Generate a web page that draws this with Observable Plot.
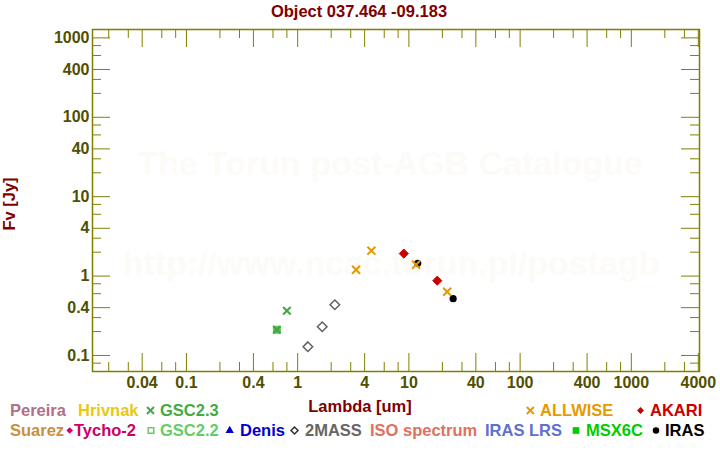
<!DOCTYPE html>
<html><head><meta charset="utf-8">
<script src="https://cdn.jsdelivr.net/npm/d3@7"></script>
<script src="https://cdn.jsdelivr.net/npm/@observablehq/plot@0.6"></script>
<style>body{margin:0;background:#fff}#chart{width:720px;height:450px}</style>
</head><body><div id="chart"></div>
<script>
// ---- tick values ----
const xMajorTicks = [0.04, 0.1, 0.4, 1, 4, 10, 40, 100, 400, 1000, 4000];
const xMinorTicks = [0.02, 0.03, 0.06, 0.08, 0.2, 0.3, 0.6, 0.8, 2, 3, 6, 8, 20, 30, 60, 80, 200, 300, 600, 800, 2000, 3000];
const yMajorTicks = [0.1, 0.4, 1, 4, 10, 40, 100, 400, 1000];
const yMinorTicks = [0.08, 0.2, 0.3, 0.6, 0.8, 2, 3, 6, 8, 20, 30, 60, 80, 200, 300, 600, 800];

// ---- photometry (Lambda [um], Fv [Jy]) ----
const gsc22Lambda = [0.65];
const gsc22Flux   = [0.211];
const gsc23Lambda = [0.65, 0.80];
const gsc23Flux   = [0.211, 0.366];
const twomassLambda = [1.235, 1.662, 2.159];
const twomassFlux   = [0.129, 0.230, 0.435];
const akariLambda = [9, 18];
const akariFlux   = [1.92, 0.875];
const irasLambda = [12, 25];
const irasFlux   = [1.45, 0.519];
const allwiseLambda = [3.35, 4.6, 11.6, 22.1];
const allwiseFlux   = [1.20, 2.09, 1.39, 0.635];

const pts = (l, f) => l.map((v, i) => ({lambda: v, flux: f[i]}));

const W = 720, H = 450, mL = 92, mR = 21, mT = 29, mB = 79;
const plotW = W - mL - mR, plotH = H - mT - mB;
const olive = "#808000", labelCol = "#505000", dark = "#800000";
const FONT = "'Liberation Sans', Arial, Helvetica, sans-serif";
const big = 18, small = 9;

const plot = Plot.plot({
  width: W, height: H,
  marginLeft: mL, marginRight: mR, marginTop: mT, marginBottom: mB,
  style: {fontFamily: FONT, background: "white", overflow: "visible"},
  x: {type: "log", domain: [0.0143, 4100], axis: null},
  y: {type: "log", domain: [0.0628, 1276], axis: null},
  marks: [
    // ticks (inward, all four sides)
    Plot.tickX(xMajorTicks, {x: d => d, stroke: olive, insetTop: plotH - big}),
    Plot.tickX(xMinorTicks, {x: d => d, stroke: olive, insetTop: plotH - small}),
    Plot.tickX(xMajorTicks, {x: d => d, stroke: olive, insetBottom: plotH - big}),
    Plot.tickX(xMinorTicks, {x: d => d, stroke: olive, insetBottom: plotH - small}),
    Plot.tickY(yMajorTicks, {y: d => d, stroke: olive, insetRight: plotW - big}),
    Plot.tickY(yMinorTicks, {y: d => d, stroke: olive, insetRight: plotW - small}),
    Plot.tickY(yMajorTicks, {y: d => d, stroke: olive, insetLeft: plotW - big}),
    Plot.tickY(yMinorTicks, {y: d => d, stroke: olive, insetLeft: plotW - small}),
    Plot.frame({stroke: olive, strokeWidth: 1.5}),
    // tick labels
    Plot.text(xMajorTicks, {x: d => d, frameAnchor: "bottom", lineAnchor: "top", dy: 5,
      text: d => String(d), fontSize: 16, fontWeight: "bold", fill: labelCol}),
    Plot.text(yMajorTicks, {y: d => d, frameAnchor: "left", textAnchor: "end", dx: -3,
      text: d => String(d), fontSize: 16, fontWeight: "bold", fill: labelCol}),
    // data
    Plot.dot(pts(gsc22Lambda, gsc22Flux), {x: "lambda", y: "flux", symbol: "square", r: 3.9, fill: "#5cc05c", stroke: "#5cc05c", strokeWidth: 1}),
    Plot.dot(pts(gsc23Lambda, gsc23Flux), {x: "lambda", y: "flux", symbol: "times", r: 3.5, stroke: "#3fa83f", strokeWidth: 2}),
    Plot.dot(pts(twomassLambda, twomassFlux), {x: "lambda", y: "flux", symbol: "diamond2", r: 4.3, stroke: "#606060", strokeWidth: 1.5, fill: "none"}),
    Plot.dot(pts(akariLambda, akariFlux), {x: "lambda", y: "flux", symbol: "diamond2", r: 4.1, fill: "#cc0000", stroke: "#cc0000", strokeWidth: 1}),
    Plot.dot(pts(irasLambda, irasFlux), {x: "lambda", y: "flux", symbol: "circle", r: 3.6, fill: "#000000"}),
    Plot.dot(pts(allwiseLambda, allwiseFlux), {x: "lambda", y: "flux", symbol: "times", r: 3.7, stroke: "#e69900", strokeWidth: 2})
  ]
});

const svg = d3.select(plot);
// watermark beneath marks
const wm = svg.insert("g", ":first-child")
  .attr("font-family", FONT).attr("font-weight", "bold").attr("font-size", 34)
  .attr("fill", "#fcfbf7").attr("text-anchor", "middle");
wm.append("text").attr("x", 390).attr("y", 175).text("The Torun post-AGB Catalogue");
wm.append("text").attr("x", 391).attr("y", 275).text("http://www.ncac.torun.pl/postagb");

const ann = svg.append("g").attr("font-family", FONT).attr("font-weight", "bold").attr("font-size", 16.5);
ann.append("text").attr("x", 359).attr("y", 17).attr("text-anchor", "middle").attr("fill", dark)
  .text("Object 037.464 -09.183");
ann.append("text").attr("x", 360).attr("y", 411.5).attr("text-anchor", "middle").attr("fill", dark)
  .text("Lambda [um]");
ann.append("text").attr("transform", "translate(15,204) rotate(-90)").attr("text-anchor", "middle").attr("fill", dark)
  .text("Fv [Jy]");

// legend
const legendItems = [
  {name: "Pereira", color: "#b07088", tx: 10, row: 0},
  {name: "Hrivnak", color: "#e8c810", tx: 78, row: 0},
  {name: "GSC2.3", color: "#44aa44", tx: 160, row: 0, sym: d3.symbolTimes, size: 34, sx: 150.5, mode: "stroke"},
  {name: "ALLWISE", color: "#e69900", tx: 540, row: 0, sym: d3.symbolTimes, size: 34, sx: 530.3, mode: "stroke"},
  {name: "AKARI", color: "#cc0000", tx: 650, row: 0, sym: d3.symbolDiamond2, size: 31, sx: 640.5, mode: "fill"},
  {name: "Suarez", color: "#c89040", tx: 10, row: 1},
  {name: "Tycho-2", color: "#cc0066", tx: 74, row: 1, sym: d3.symbolDiamond2, size: 28, sx: 69.7, mode: "fill"},
  {name: "GSC2.2", color: "#66cc66", tx: 160, row: 1, sym: d3.symbolSquare2, size: 40, sx: 151, mode: "hollow"},
  {name: "Denis", color: "#0000cc", tx: 240, row: 1, sym: d3.symbolTriangle, size: 30, sx: 229.7, mode: "fill"},
  {name: "2MASS", color: "#666666", tx: 305, row: 1, sym: d3.symbolDiamond2, size: 31, sx: 294.5, mode: "hollow", scolor: "#333333"},
  {name: "ISO spectrum", color: "#e07060", tx: 370, row: 1},
  {name: "IRAS LRS", color: "#6070d0", tx: 485, row: 1},
  {name: "MSX6C", color: "#00cc00", tx: 586, row: 1, sym: d3.symbolSquare, size: 45, sx: 576, mode: "fill"},
  {name: "IRAS", color: "#000000", tx: 665, row: 1, sym: d3.symbolCircle, size: 33, sx: 656, mode: "fill"}
];
const rowBase = [415.5, 436], rowMid = [410.5, 430.5];
const lg = svg.append("g").attr("font-family", FONT).attr("font-weight", "bold").attr("font-size", 16.5)
  .attr("text-anchor", "start");
for (const it of legendItems) {
  lg.append("text").attr("x", it.tx).attr("y", rowBase[it.row]).attr("fill", it.color).text(it.name);
  if (it.sym) {
    const p = lg.append("path").attr("d", d3.symbol(it.sym, it.size)())
      .attr("transform", `translate(${it.sx},${rowMid[it.row]})`);
    const c = it.scolor || it.color;
    if (it.mode === "fill") p.attr("fill", c);
    else p.attr("fill", "none").attr("stroke", c).attr("stroke-width", it.mode === "stroke" ? 2 : 1.5);
  }
}

document.getElementById("chart").appendChild(plot);
</script></body></html>
